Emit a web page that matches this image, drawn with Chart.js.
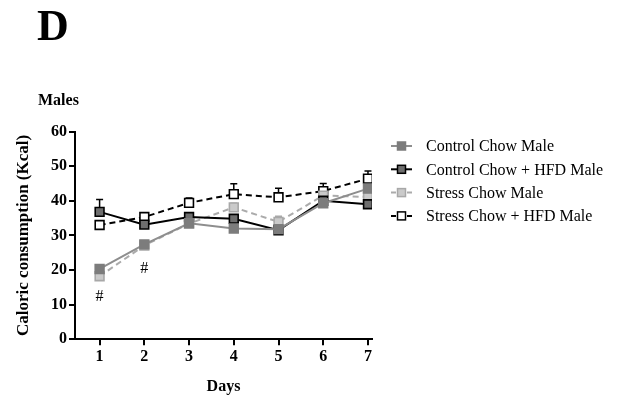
<!DOCTYPE html>
<html>
<head>
<meta charset="utf-8">
<script src="https://cdn.jsdelivr.net/npm/chart.js@4"></script>
<style>
  html, body { margin: 0; padding: 0; background: #fff; }
  #wrap { width: 637px; height: 400px; position: relative; }
</style>
</head>
<body>
<div id="wrap"><canvas id="chart" width="637" height="400"></canvas></div>
<script>
// data
var days = [1, 2, 3, 4, 5, 6, 7];
var seriesNames = ["Control Chow Male", "Control Chow + HFD Male", "Stress Chow Male", "Stress Chow + HFD Male"];
var controlChow = [20.3, 27.4, 33.5, 32.0, 31.8, 39.3, 43.5];
var controlHFD  = [36.8, 33.1, 35.3, 34.8, 31.5, 40.0, 39.0];
var stressChow  = [18.2, 27.1, 33.4, 38.1, 33.9, 41.5, 41.1];
var stressHFD   = [33.0, 35.3, 39.4, 41.9, 41.0, 42.8, 46.4];
// upper error (SEM)
var controlChowErr = [0.8, 0.9, 0.5, 0.5, 0.5, 0.5, 0.8];
var controlHFDErr  = [3.6, 0.8, 0.8, 1.0, 0.8, 0.8, 0.8];
var stressChowErr  = [0.6, 0.6, 0.8, 1.2, 1.6, 0.8, 1.0];
var stressHFDErr   = [0.8, 0.8, 1.4, 3.0, 2.6, 2.2, 2.2];
var yTicks = [0, 10, 20, 30, 40, 50, 60];
// significance marks (#): day, value
var hashDays = [1, 2];
var hashValues = [12.2, 20.4];

var serif = "'Liberation Serif', 'Times New Roman', serif";

function pts(vals) {
  return vals.map(function (v, i) { return { x: days[i], y: v }; });
}

var datasets = [
  { label: seriesNames[0], data: pts(controlChow), err: controlChowErr,
    borderColor: '#8e8e8e', backgroundColor: '#7c7c7c', pointBorderColor: '#7c7c7c',
    borderDash: [], errColor: '#7c7c7c' },
  { label: seriesNames[1], data: pts(controlHFD), err: controlHFDErr,
    borderColor: '#000000', backgroundColor: '#6e6e6e', pointBorderColor: '#000000',
    borderDash: [], errColor: '#000000' },
  { label: seriesNames[2], data: pts(stressChow), err: stressChowErr,
    borderColor: '#ababab', backgroundColor: '#cacaca', pointBorderColor: '#a8a8a8',
    borderDash: [6, 4], errColor: '#a8a8a8' },
  { label: seriesNames[3], data: pts(stressHFD), err: stressHFDErr,
    borderColor: '#000000', backgroundColor: '#ffffff', pointBorderColor: '#000000',
    borderDash: [6, 4], errColor: '#000000' }
];
datasets.forEach(function (d) {
  d.borderWidth = 2;
  d.pointStyle = 'rect';
  d.pointRadius = 6.2;
  d.pointBorderWidth = 1.6;
  d.pointBackgroundColor = d.backgroundColor;
  d.fill = false;
  d.tension = 0;
});

var errorBars = {
  id: 'errorBars',
  beforeDatasetsDraw: function (chart) {
    var ctx = chart.ctx, ys = chart.scales.y, xs = chart.scales.x;
    chart.data.datasets.forEach(function (ds) {
      ctx.save();
      ctx.strokeStyle = ds.errColor;
      ctx.lineWidth = 1.5;
      ds.data.forEach(function (p, i) {
        var x = xs.getPixelForValue(p.x);
        var y0 = ys.getPixelForValue(p.y);
        var y1 = ys.getPixelForValue(p.y + ds.err[i]);
        ctx.beginPath();
        ctx.moveTo(x, y0); ctx.lineTo(x, y1);
        ctx.moveTo(x - 3.5, y1); ctx.lineTo(x + 3.5, y1);
        ctx.stroke();
      });
      ctx.restore();
    });
  }
};

var extras = {
  id: 'extras',
  afterDraw: function (chart) {
    var ctx = chart.ctx, ys = chart.scales.y, xs = chart.scales.x;
    ctx.save();
    ctx.fillStyle = '#000';
    ctx.textBaseline = 'alphabetic';
    ctx.textAlign = 'left';
    ctx.font = 'bold 44px ' + serif;
    ctx.fillText('D', 37, 40);
    ctx.font = 'bold 16px ' + serif;
    ctx.fillText('Males', 38, 105);

    // # marks
    ctx.font = '16px ' + serif;
    ctx.textAlign = 'center';
    ctx.textBaseline = 'middle';
    hashDays.forEach(function (d, i) {
      ctx.fillText('#', xs.getPixelForValue(d), ys.getPixelForValue(hashValues[i]));
    });

    // legend
    ctx.textAlign = 'left';
    ctx.font = '16px ' + serif;
    chart.data.datasets.forEach(function (ds, i) {
      var y = 146 + i * 23.3;
      ctx.save();
      ctx.strokeStyle = ds.borderColor;
      ctx.lineWidth = 2;
      ctx.setLineDash(ds.borderDash.length ? [5, 3] : []);
      ctx.beginPath();
      ctx.moveTo(391, y); ctx.lineTo(412, y);
      ctx.stroke();
      ctx.setLineDash([]);
      ctx.fillStyle = ds.backgroundColor;
      ctx.fillRect(397.5, y - 4, 8, 8);
      ctx.strokeStyle = ds.pointBorderColor;
      ctx.lineWidth = 1.5;
      ctx.strokeRect(397.5, y - 4, 8, 8);
      ctx.restore();
      ctx.fillStyle = '#000';
      ctx.fillText(ds.label, 426, y + 1);
    });
    ctx.restore();
  }
};

new Chart(document.getElementById('chart'), {
  type: 'line',
  data: { datasets: datasets },
  plugins: [errorBars, extras],
  options: {
    responsive: false,
    animation: false,
    layout: { padding: { top: 131.5, right: 265, bottom: 0, left: 0 } },
    plugins: { legend: { display: false }, tooltip: { enabled: false } },
    scales: {
      x: {
        type: 'linear',
        min: 0.45,
        max: 7.09,
        afterFit: function (s) { s.height = 60.7; },
        afterBuildTicks: function (s) { s.ticks = days.map(function (d) { return { value: d }; }); },
        ticks: { color: '#000', font: { family: serif, size: 16, weight: 'bold' }, padding: 2 },
        grid: { drawOnChartArea: false, drawTicks: true, tickLength: 6, color: '#000', lineWidth: 2 },
        border: { color: '#000', width: 2 },
        title: { display: true, text: 'Days', color: '#000',
                 font: { family: serif, size: 16, weight: 'bold' }, padding: { top: 0, bottom: 4 } }
      },
      y: {
        min: 0,
        max: 60,
        afterFit: function (s) { s.width = 75; },
        afterBuildTicks: function (s) { s.ticks = yTicks.map(function (v) { return { value: v }; }); },
        ticks: { color: '#000', font: { family: serif, size: 16, weight: 'bold' }, padding: 2 },
        grid: { drawOnChartArea: false, drawTicks: true, tickLength: 6, color: '#000', lineWidth: 2 },
        border: { color: '#000', width: 2 },
        title: { display: true, text: 'Caloric consumption (Kcal)', color: '#000',
                 font: { family: serif, size: 17, weight: 'bold' }, padding: { top: 13, bottom: 0 } }
      }
    }
  }
});
</script>
</body>
</html>
